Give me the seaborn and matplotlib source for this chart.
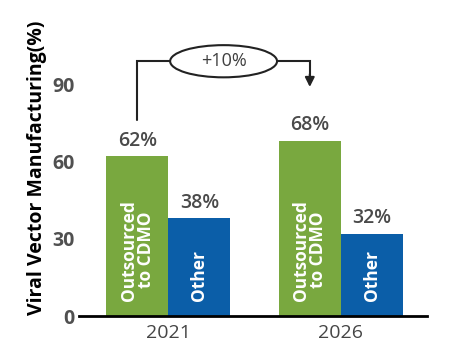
import pandas as pd
import matplotlib
matplotlib.use("Agg")
import matplotlib.pyplot as plt
from matplotlib.patches import Ellipse
import seaborn as sns

# data
years = ['2021', '2026']
outsourced = [62, 68]
other = [38, 32]
groups = ['Outsourced\nto CDMO', 'Other']
colors = ['#79a83f', '#0b5ea8']

df = pd.DataFrame({
    'Year': years * 2,
    'Share': outsourced + other,
    'Group': [groups[0]] * len(years) + [groups[1]] * len(years),
})

sns.set_style('white')
plt.rcParams['font.family'] = ['Open Sans', 'DejaVu Sans']

fig = plt.figure(figsize=(4.5, 3.58), dpi=100)
ax = fig.add_axes([0.175, 0.117, 0.774, 0.827])

sns.barplot(data=df, x='Year', y='Share', hue='Group', palette=colors,
            width=0.72, gap=0, saturation=1, legend=False, linewidth=0, ax=ax)

ax.set_ylim(0, 115)
ax.set_xlim(-0.52, 1.5)
ax.set_yticks([0, 30, 60, 90])
ax.set_ylabel('Viral Vector Manufacturing(%)', fontsize=14, fontweight='bold',
              color='black', labelpad=4)
ax.set_xlabel('')
ax.tick_params(axis='y', length=0, pad=3, labelsize=14, labelcolor='#505050')
ax.tick_params(axis='x', length=0, pad=6, labelsize=14, labelcolor='#454545')
for lab in ax.get_yticklabels():
    lab.set_fontweight('bold')

for s in ['top', 'right', 'left']:
    ax.spines[s].set_visible(False)
ax.spines['bottom'].set_color('black')
ax.spines['bottom'].set_linewidth(2)

# value labels on top and group names inside bars
for cont, name in zip(ax.containers, groups):
    ax.bar_label(cont, fmt='%d%%', padding=4, fontsize=14, fontweight='semibold',
                 color='#4a4a4a')
    for bar in cont:
        xc = bar.get_x() + bar.get_width() / 2
        ax.text(xc, 6, name, rotation=90, ha='center', va='bottom',
                multialignment='center', color='white', fontsize=12.5,
                fontweight='bold', linespacing=0.95)

# growth bracket between the two outsourced bars
b1, b2 = ax.containers[0][0], ax.containers[0][1]
x1 = b1.get_x() + b1.get_width() / 2
x2 = b2.get_x() + b2.get_width() / 2
ytop = 99
ax.plot([x1, x1, x2, x2], [76, ytop, ytop, 93], color='#222222', lw=1.5,
        solid_joinstyle='miter')
ax.annotate('', xy=(x2, 89), xytext=(x2, 94),
            arrowprops=dict(arrowstyle='-|>', color='#222222', lw=1.5,
                            mutation_scale=14, shrinkA=0, shrinkB=0))
xm = (x1 + x2) / 2
ax.add_patch(Ellipse((xm, ytop), 0.62, 12.5, fc='white', ec='#222222', lw=1.5,
                     zorder=3))
ax.text(xm, ytop, '+10%', ha='center', va='center', fontsize=13,
        color='#404040', zorder=4)

plt.savefig('out.png', dpi=100)
